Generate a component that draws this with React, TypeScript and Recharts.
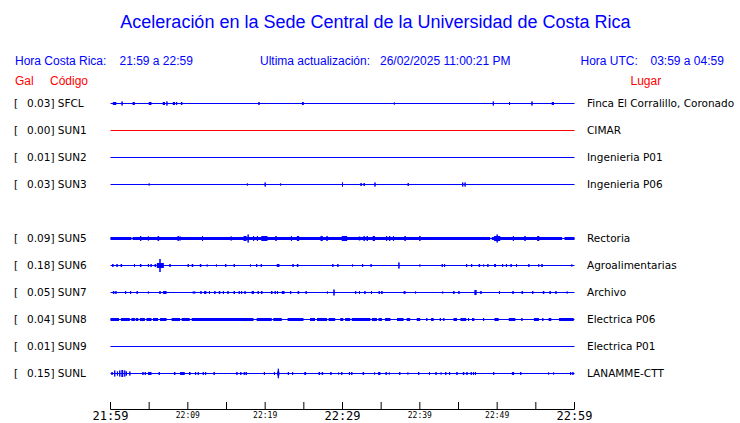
import React from 'react';
import { LineChart, Line, XAxis, YAxis, ReferenceArea } from 'recharts';

// --- datos ---------------------------------------------------------------
const CODES = ['SFCL', 'SUN1', 'SUN2', 'SUN3', 'SUN5', 'SUN6', 'SUN7', 'SUN8', 'SUN9', 'SUNL'];
const PEAK_GAL = ['0.03', '0.00', '0.01', '0.03', '0.09', '0.18', '0.05', '0.04', '0.01', '0.15'];
const PLACES = [
  'Finca El Corralillo, Coronado',
  'CIMAR',
  'Ingenieria P01',
  'Ingenieria P06',
  'Rectoria',
  'Agroalimentarias',
  'Archivo',
  'Electrica P06',
  'Electrica P01',
  'LANAMME-CTT',
];

// minutos desde 21:59
const TIME_TICKS = [0, 5, 10, 15, 20, 25, 30, 35, 40, 45, 50, 55, 60];
const TICK_LABELS = ['21:59', '', '22:09', '', '22:19', '', '22:29', '', '22:39', '', '22:49', '', '22:59'];

// picos: [minuto, amplitud]
const SPIKES_SFCL = [[1.5, 2], [7.3, 2], [8.55, 1.5], [19.2, 1.5], [36.7, 1], [49.5, 2], [51.6, 1.5], [54.5, 2]];
const SPIKES_SUN1: number[][] = [];
const SPIKES_SUN2: number[][] = [];
const SPIKES_SUN3 = [[5.0, 1], [17.7, 1], [20.0, 2], [22.0, 1], [30.0, 2], [32.4, 1.5], [32.8, 1.5], [34.2, 2], [38.5, 1.5], [45.55, 2], [45.85, 2]];
const SPIKES_SUN5 = [
  [3.9, 2.5], [4.9, 2], [6.2, 2.5], [8.75, 2.5], [9.0, 2], [11.9, 2.5], [15.6, 2], [17.8, 4], [18.5, 2.5], [19.0, 2.5],
  [21.4, 2.5], [23.4, 2.5], [28.0, 2.5], [32.8, 2.5], [33.2, 2.5], [35.7, 2.5], [36.1, 2.5], [36.6, 2.5], [38.1, 2.5],
  [40.0, 2.5], [50.0, 4], [52.1, 2.5], [53.6, 2.5], [55.3, 2.5],
];
const SPIKES_SUN6 = [
  [0.85, 1.5], [3.1, 1.5], [4.9, 1.5], [5.25, 1.5], [6.4, 6.5], [10.05, 1.5], [12.5, 1], [13.7, 1], [14.9, 1.5], [16.0, 1.5],
  [18.1, 1], [18.9, 1.5], [19.5, 1.5], [23.6, 1.5], [28.75, 1.5], [29.4, 1.5], [31.3, 1], [32.6, 1.5], [33.7, 1.5], [37.3, 3],
  [40.0, 1], [42.9, 1.5], [43.2, 1.5], [46.05, 1.5], [46.7, 1.5], [48.25, 1], [48.8, 1.5], [50.7, 1.5], [51.2, 1.5],
  [52.5, 1.5], [54.1, 1.5], [59.65, 1],
];
const SPIKES_SUN7 = [
  [0.7, 1.5], [1.95, 1.5], [2.6, 1.5], [3.45, 1.5], [4.9, 1], [6.4, 1.5], [10.7, 1], [10.9, 1], [11.7, 1.5], [12.8, 1.5],
  [14.6, 1.5], [16.65, 1.5], [16.95, 1.5], [17.4, 1.5], [19.1, 1.5], [21.3, 1.5], [21.6, 1.5], [23.3, 1.5], [25.3, 1.5],
  [28.05, 1], [31.7, 1.5], [32.2, 1.5], [32.9, 1.5], [33.75, 1.5], [34.75, 1.5], [39.45, 1], [42.95, 1], [50.3, 1.5],
  [54.6, 1.5], [57.6, 1.5], [59.05, 1],
];
const SPIKES_SUN8 = [[40.9, 1.5], [42.65, 1.5], [43.1, 1.5], [46.3, 1.5], [48.25, 1.5], [53.2, 1.5], [55.9, 1.5]];
const SPIKES_SUN9: number[][] = [];
const SPIKES_SUNL = [
  [0.55, 3], [0.9, 2], [1.2, 3], [1.85, 3], [2.05, 2], [2.5, 2], [4.5, 1.5], [6.3, 1.5], [11.0, 1.5], [11.35, 1.5],
  [12.0, 1.5], [12.3, 1.5], [13.4, 1.5], [16.85, 1.5], [17.3, 1.5], [17.55, 1.5], [19.9, 1.5], [21.2, 1.5], [21.7, 4.7],
  [23.0, 1.5], [23.55, 1.5], [28.5, 1.5], [29.5, 1], [29.9, 1.5], [30.9, 1.5], [31.2, 1.5], [34.15, 1], [35.65, 1.5],
  [36.05, 1], [37.4, 1.5], [38.45, 1], [39.85, 1.5], [41.25, 1.5], [42.1, 1.5], [42.75, 1], [43.35, 1.5], [43.85, 1.5],
  [46.1, 1.5], [46.65, 1.5], [46.95, 1.5], [47.2, 1.5], [49.55, 1.5], [53.05, 1.5], [56.65, 1], [57.3, 1], [59.5, 1.5],
  [59.8, 1.5],
];

// rafagas: [inicio, fin, amplitud]
const BURSTS_SFCL = [[0.3, 0.75, 1.5], [2.85, 3.15, 1.5], [4.95, 5.3, 1.5], [6.75, 7.05, 1.5], [8.05, 8.35, 1.5], [9.1, 9.3, 1.5], [24.75, 25.0, 1.5], [57.05, 57.35, 1.5]];
const BURSTS_SUN1: number[][] = [];
const BURSTS_SUN2: number[][] = [];
const BURSTS_SUN3: number[][] = [];
const BURSTS_SUN5 = [
  [0, 2.7, 1.5], [2.85, 49.1, 1.5], [49.3, 58.4, 1.5], [58.7, 60, 1.5],
  [6.05, 6.3, 2], [17.2, 17.6, 2.5], [19.5, 20.3, 2.5], [24.1, 24.4, 2.5], [27.15, 27.45, 2.5], [29.9, 30.6, 2.5],
  [32.1, 32.3, 2], [33.9, 34.2, 2.5], [49.6, 50.4, 2.5], [55.2, 55.45, 2.5],
];
const BURSTS_SUN6 = [
  [0.2, 0.4, 1.5], [1.3, 1.5, 1.5], [3.8, 4.0, 1.5], [5.7, 5.9, 1.5], [6.0, 6.9, 2.5], [7.6, 7.8, 1.5], [10.5, 10.7, 1.5],
  [11.55, 11.75, 1.5], [21.5, 21.85, 1.5], [24.1, 24.3, 1.5], [47.6, 47.8, 1.5], [49.6, 49.85, 1.5], [51.7, 51.9, 1.5],
  [55.3, 55.45, 1.5], [55.7, 55.9, 1.5],
];
const BURSTS_SUN7 = [
  [0.3, 0.5, 1.5], [6.8, 7.25, 1.5], [12.1, 12.4, 1.5], [13.4, 13.6, 1.5], [14.0, 14.2, 1.5], [15.1, 15.3, 1.5],
  [15.9, 16.1, 1.5], [18.25, 18.55, 1.5], [19.45, 19.65, 1.5], [20.75, 20.95, 1.5], [22.15, 22.5, 1.5], [24.2, 24.4, 1.5],
  [28.8, 29.0, 3], [35.0, 35.2, 1.5], [37.9, 38.15, 1.5], [44.3, 44.5, 1.5], [44.95, 45.15, 1.5], [47.05, 47.35, 2.5],
  [47.8, 48.0, 1.5], [51.95, 52.15, 1.5], [53.15, 53.35, 1.5], [55.9, 56.1, 1.5], [56.75, 56.95, 1.5],
];
const BURSTS_SUN8 = [
  [0, 1.1, 1.5], [1.35, 2.5, 1.5], [2.7, 3.15, 1.5], [3.25, 3.6, 1.5], [3.8, 4.45, 1.5], [4.65, 5.3, 1.5], [5.5, 6.15, 1.5],
  [6.4, 7.25, 1.5], [7.9, 9.0, 1.5], [9.2, 10.25, 1.5], [10.5, 18.5, 1.5], [18.9, 20.85, 1.5], [21.05, 22.15, 1.5],
  [22.9, 24.95, 1.5], [25.8, 26.45, 1.5], [26.7, 28.0, 1.5], [28.2, 29.05, 1.5], [29.7, 30.1, 1.5], [30.35, 31.0, 1.5],
  [31.2, 33.6, 1.5], [33.8, 34.45, 1.5], [34.65, 35.1, 1.5], [35.5, 36.2, 1.5], [37.05, 37.9, 1.5], [38.3, 38.75, 1.5],
  [39.6, 40.05, 1.5], [41.45, 41.8, 1.5], [44.35, 44.8, 1.5], [45.25, 46.0, 1.5], [46.75, 47.05, 1.5], [49.65, 50.2, 1.5],
  [51.5, 52.35, 1.5], [54.75, 55.4, 1.5], [56.65, 57.0, 1.5], [58.0, 59.9, 1.5],
];
const BURSTS_SUN9: number[][] = [];
const BURSTS_SUNL = [
  [0.1, 0.3, 1.5], [1.4, 1.65, 3.5], [4.1, 4.3, 1.5], [4.85, 5.3, 1.5], [8.2, 8.4, 1.5], [9.0, 9.6, 1.5], [10.15, 10.35, 1.5],
  [16.25, 16.45, 1.5], [21.55, 21.85, 2], [25.05, 25.3, 1.5], [26.9, 27.1, 1.5], [27.3, 27.5, 1.5], [32.6, 32.8, 1.5],
  [34.6, 34.9, 1.5], [44.7, 44.9, 1.5], [45.55, 45.75, 1.5], [51.9, 52.2, 1.5],
];

const SPIKES = [SPIKES_SFCL, SPIKES_SUN1, SPIKES_SUN2, SPIKES_SUN3, SPIKES_SUN5, SPIKES_SUN6, SPIKES_SUN7, SPIKES_SUN8, SPIKES_SUN9, SPIKES_SUNL];
const BURSTS = [BURSTS_SFCL, BURSTS_SUN1, BURSTS_SUN2, BURSTS_SUN3, BURSTS_SUN5, BURSTS_SUN6, BURSTS_SUN7, BURSTS_SUN8, BURSTS_SUN9, BURSTS_SUNL];

// --- layout --------------------------------------------------------------
const W = 740;
const H = 423;
const PLOT_TOP = 88;
const PLOT_LEFT = 110.5;
const PLOT_RIGHT = 574.5;
const AXIS_H = 13.5;
const PLOT_H = H - PLOT_TOP - AXIS_H;
const ROW_FIRST = 15.5; // desde el tope del area de trazado
const ROW_GAP = 27;
const ROW_SLOTS = [0, 1, 2, 3, 5, 6, 7, 8, 9, 10]; // SUN4 no aparece
const BLUE = '#0000ff';
const RED = '#ff0000';
const TRACE_COLOR: Record<string, string> = { SUN1: RED };

const rowY = (i: number) => ROW_FIRST + ROW_GAP * ROW_SLOTS[i];

// arma la traza: linea base con picos verticales
function buildTrace(spikes: number[][], base: number) {
  const pts: { t: number; y: number }[] = [{ t: 0, y: base }];
  [...spikes]
    .sort((a, b) => a[0] - b[0])
    .forEach(([t, a]) => {
      pts.push({ t, y: base }, { t, y: base - a }, { t, y: base + a }, { t, y: base });
    });
  pts.push({ t: 60, y: base });
  return pts;
}

const renderTick = (props: any) => {
  const { x, y, payload } = props;
  const idx = TIME_TICKS.indexOf(payload.value);
  const label = TICK_LABELS[idx] || '';
  const big = payload.value % 30 === 0;
  return (
    <g>
      <line x1={x} y1={y} x2={x} y2={y - 7.5} stroke="#000" strokeWidth={1} />
      {label && (
        <text
          x={x}
          y={y + (big ? 10 : 8.5)}
          textAnchor="middle"
          fontFamily="'DejaVu Sans Mono', monospace"
          fontSize={big ? 12 : 8}
          fill="#000"
        >
          {label}
        </text>
      )}
    </g>
  );
};

export default function App() {
  const sans = "'Liberation Sans', Arial, sans-serif";
  const dejavu = "'DejaVu Sans', sans-serif";

  return (
    <div style={{ position: 'absolute', left: 0, top: 0, width: W, height: H, background: '#fff' }}>
      <LineChart
        width={W}
        height={H}
        margin={{ top: PLOT_TOP, right: W - PLOT_RIGHT, bottom: 0, left: PLOT_LEFT }}
      >
        <XAxis
          type="number"
          dataKey="t"
          domain={[0, 60]}
          ticks={TIME_TICKS}
          interval={0}
          height={AXIS_H}
          tickSize={0}
          tickMargin={0}
          tickLine={false}
          axisLine={{ stroke: '#000', strokeWidth: 1 }}
          tick={renderTick}
        />
        <YAxis type="number" dataKey="y" domain={[0, PLOT_H]} reversed hide />
        {CODES.map((code, i) =>
          BURSTS[i].map(([t0, t1, a], j) => (
            <ReferenceArea
              key={`${code}-b${j}`}
              x1={t0}
              x2={t1}
              y1={rowY(i) - a}
              y2={rowY(i) + a}
              fill={TRACE_COLOR[code] || BLUE}
              fillOpacity={1}
              stroke="none"
            />
          ))
        )}
        {CODES.map((code, i) => (
          <Line
            key={code}
            data={buildTrace(SPIKES[i], rowY(i))}
            dataKey="y"
            type="linear"
            stroke={TRACE_COLOR[code] || BLUE}
            strokeWidth={1}
            dot={false}
            activeDot={false}
            isAnimationActive={false}
          />
        ))}
      </LineChart>

      <svg
        width={W}
        height={H}
        style={{ position: 'absolute', left: 0, top: 0, pointerEvents: 'none' }}
      >
        <text x={375.5} y={28} textAnchor="middle" fontFamily={sans} fontSize={18} fill={BLUE}>
          Aceleración en la Sede Central de la Universidad de Costa Rica
        </text>

        <g fontFamily={sans} fontSize={12} fill={BLUE}>
          <text x={15} y={65}>Hora Costa Rica:</text>
          <text x={119.5} y={65}>21:59 a 22:59</text>
          <text x={260} y={65}>Ultima actualización:</text>
          <text x={380} y={65}>26/02/2025 11:00:21 PM</text>
          <text x={580.5} y={65}>Hora UTC:</text>
          <text x={650.5} y={65}>03:59 a 04:59</text>
        </g>
        <g fontFamily={sans} fontSize={12} fill={RED}>
          <text x={15} y={85}>Gal</text>
          <text x={50} y={85}>Código</text>
          <text x={630.5} y={85}>Lugar</text>
        </g>

        <g fontFamily={dejavu} fontSize={10.5} fill="#000">
          {CODES.map((code, i) => {
            const y = PLOT_TOP + rowY(i) + 3.5;
            return (
              <g key={code}>
                <text x={14} y={y}>[</text>
                <text x={27} y={y}>{`${PEAK_GAL[i]}] ${code}`}</text>
                <text x={587} y={y}>{PLACES[i]}</text>
              </g>
            );
          })}
        </g>
      </svg>
    </div>
  );
}
